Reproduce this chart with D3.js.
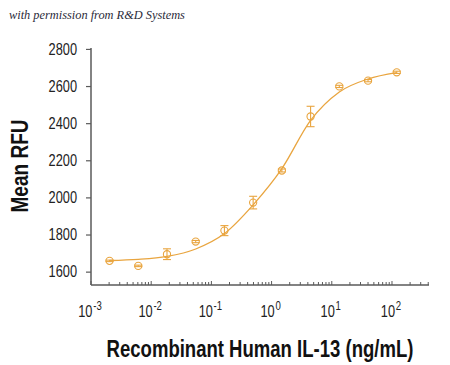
<!DOCTYPE html>
<html>
<head>
<meta charset="utf-8">
<script src="https://cdn.jsdelivr.net/npm/d3@7"></script>
<style>
  html, body { margin: 0; padding: 0; background: #fff; }
  svg { display: block; }
</style>
</head>
<body>
<svg id="chart" width="450" height="365"></svg>
<script>
// ---- data ----
const concentrations = [0.002032, 0.006097, 0.01829, 0.05487, 0.1646, 0.4938, 1.481, 4.444, 13.33, 40, 120]; // ng/mL
const meanRFU        = [1658, 1631, 1694, 1762, 1821, 1972, 2145, 2436, 2598, 2629, 2674];
const errorRFU       = [4, 4, 29, 6, 27, 34, 8, 55, 6, 6, 6];
const fitConc        = [0.002032, 0.006097, 0.01829, 0.05487, 0.1646, 0.4938, 1.481, 4.444, 13.33, 40, 120];
const fitRFU         = [1660, 1666, 1682, 1722, 1805, 1960, 2155, 2415, 2568, 2638, 2672];
const yTicks         = [1600, 1800, 2000, 2200, 2400, 2600, 2800];
const xTickExponents = [-3, -2, -1, 0, 1, 2];
const yTitle = "Mean RFU";
const xTitle = "Recombinant Human IL-13 (ng/mL)";
const watermark = "with permission from R&D Systems";

const orange = "#E9A53F";
const axisColor = "#5a5a5a";
const FONT = "'Liberation Sans', Arial, sans-serif";
const CONDENSE = 0.8;

const svg = d3.select("#chart");

const x = d3.scaleLog().domain([0.001, 412]).range([91, 429]);
const y = d3.scaleLinear().domain([1528, 2805]).range([285, 48]);

// helper: squeeze a text horizontally to a target width (anchor at its own x=0)
function squeezeTo(textSel, g, target) {
  const w = textSel.node().getComputedTextLength();
  g.attr("transform", g.attr("transform") + ` scale(${target / w},1)`);
}

// watermark
{
  const g = svg.append("g").attr("transform", "translate(9,19)");
  const t = g.append("text")
    .attr("font-family", "'Liberation Serif', 'DejaVu Serif', serif")
    .attr("font-style", "italic")
    .attr("font-size", 12)
    .attr("fill", "#2b2b3a")
    .text(watermark);
  squeezeTo(t, g, 176);
}

// y axis
const yAxis = d3.axisLeft(y).tickValues(yTicks).tickFormat(d3.format("d")).tickSize(5).tickPadding(9);
const gy = svg.append("g").attr("transform", "translate(91,0)").call(yAxis);
gy.attr("font-family", FONT);
gy.select(".domain").attr("stroke", axisColor).attr("stroke-width", 1.5).attr("d", `M0,${y.range()[0]}V${y.range()[1]}`);
gy.selectAll(".tick line").attr("stroke", axisColor).attr("stroke-width", 1.2);
gy.selectAll(".tick text")
  .attr("font-size", 16).attr("fill", "#222")
  .attr("x", null)
  .attr("transform", `translate(-14,0) scale(${CONDENSE},1)`);

// x axis
const gx = svg.append("g").attr("transform", "translate(0,285)");
gx.append("path").attr("d", `M${x.range()[0]},0H${x.range()[1]}`)
  .attr("stroke", axisColor).attr("stroke-width", 1.5).attr("fill", "none");
const minorTicks = [];
for (let e = -3; e <= 2; e++) {
  for (let m = 1; m <= 9; m++) {
    const v = m * Math.pow(10, e);
    if (v <= x.domain()[1]) minorTicks.push({v, major: m === 1});
  }
}
gx.selectAll("line.tk").data(minorTicks).join("line")
  .attr("class", "tk")
  .attr("x1", d => x(d.v)).attr("x2", d => x(d.v))
  .attr("y1", 0).attr("y2", d => d.major ? -4 : -3)
  .attr("stroke", axisColor).attr("stroke-width", 1);

const xl = gx.selectAll("g.xl").data(xTickExponents).join("g")
  .attr("class", "xl")
  .attr("transform", d => `translate(${x(Math.pow(10, d)) - 1},32) scale(${CONDENSE},1)`);
const xt = xl.append("text")
  .attr("text-anchor", "middle")
  .attr("font-family", FONT)
  .attr("font-size", 16).attr("fill", "#222");
xt.append("tspan").text("10");
xt.append("tspan").attr("dx", 1).attr("dy", -7).attr("font-size", 12).text(d => String(d));

// axis titles
{
  const g = svg.append("g").attr("transform", "translate(28,166) rotate(-90)");
  const t = g.append("text")
    .attr("text-anchor", "middle")
    .attr("font-family", FONT)
    .attr("font-size", 23)
    .attr("font-weight", "bold")
    .attr("fill", "#111")
    .text(yTitle);
  squeezeTo(t, g, 93);
}
{
  const g = svg.append("g").attr("transform", "translate(260,357)");
  const t = g.append("text")
    .attr("text-anchor", "middle")
    .attr("font-family", FONT)
    .attr("font-size", 23)
    .attr("font-weight", "bold")
    .attr("fill", "#111")
    .text(xTitle);
  squeezeTo(t, g, 307);
}

// fit curve
const fitData = fitConc.map((c, i) => [c, fitRFU[i]]);
svg.append("path")
  .datum(fitData)
  .attr("fill", "none")
  .attr("stroke", orange)
  .attr("stroke-width", 1.3)
  .attr("d", d3.line().x(d => x(d[0])).y(d => y(d[1])).curve(d3.curveMonotoneX));

// points with error bars
const pts = concentrations.map((c, i) => ({c, m: meanRFU[i], e: errorRFU[i]}));
const gp = svg.append("g").attr("stroke", orange).attr("fill", "none").attr("stroke-width", 1.1);
const pg = gp.selectAll("g").data(pts).join("g");
pg.append("line")
  .attr("x1", d => x(d.c)).attr("x2", d => x(d.c))
  .attr("y1", d => y(d.m - d.e)).attr("y2", d => y(d.m + d.e));
pg.append("line")
  .attr("x1", d => x(d.c) - 4).attr("x2", d => x(d.c) + 4)
  .attr("y1", d => y(d.m + d.e)).attr("y2", d => y(d.m + d.e));
pg.append("line")
  .attr("x1", d => x(d.c) - 4).attr("x2", d => x(d.c) + 4)
  .attr("y1", d => y(d.m - d.e)).attr("y2", d => y(d.m - d.e));
pg.append("circle")
  .attr("cx", d => x(d.c)).attr("cy", d => y(d.m)).attr("r", 3.6)
  .attr("fill", "none");
</script>
</body>
</html>
